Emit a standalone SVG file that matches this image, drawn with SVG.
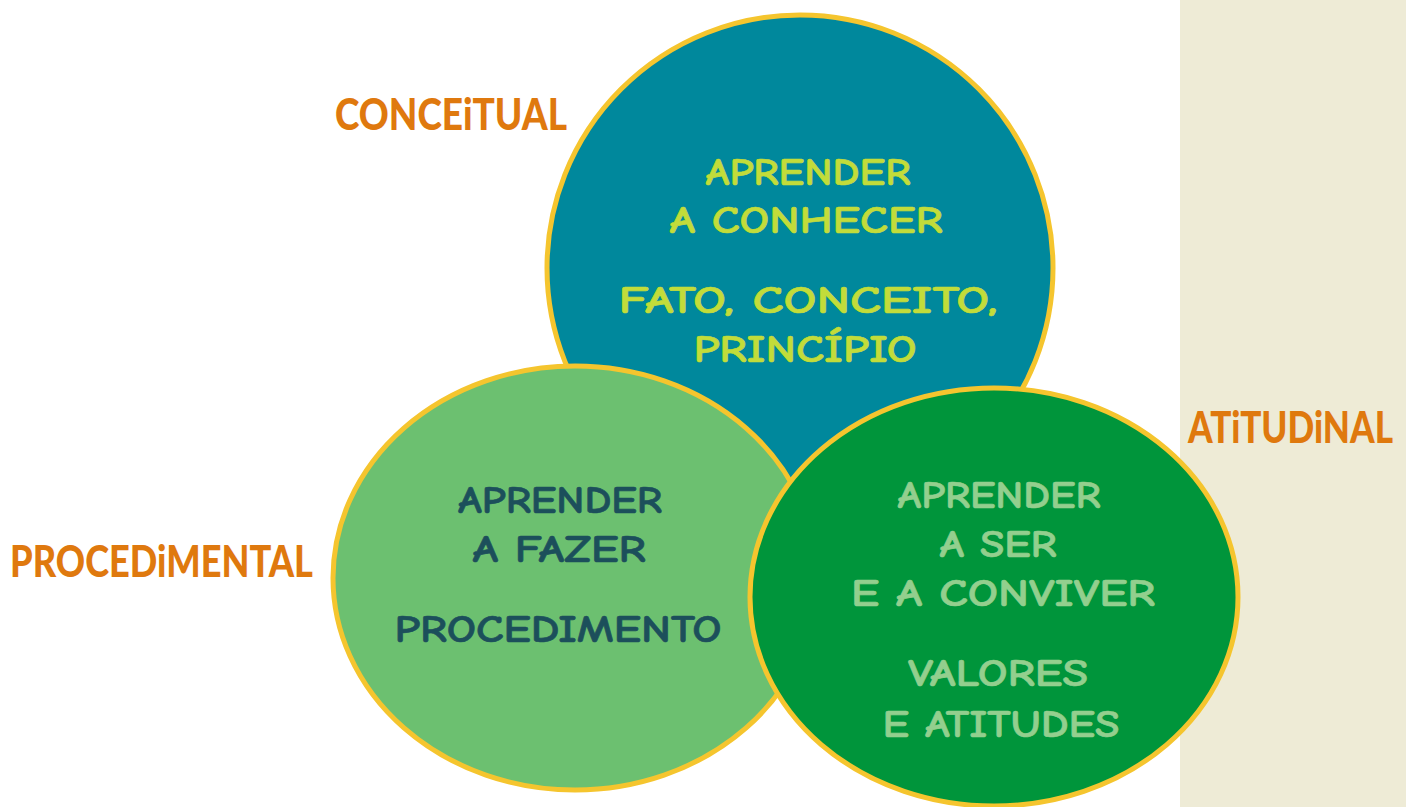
<svg xmlns="http://www.w3.org/2000/svg" width="1406" height="807" viewBox="0 0 1406 807">
<style>
.c{stroke:#F5C52E;stroke-width:5}
.t{font-family:"Comic Neue","Liberation Sans",Arial,sans-serif;font-weight:700;font-size:38px;text-anchor:middle;stroke-width:0.6;stroke-linejoin:round}
.lb{font-family:Lato,"Liberation Sans",Arial,sans-serif;font-weight:900;font-size:44px;fill:#DF790E}
.y{fill:#C2DC3A;stroke:#C2DC3A}
.d{fill:#1C4F5B;stroke:#1C4F5B}
.g{fill:#93CF8E;stroke:#93CF8E}
</style>
<rect x="0" y="0" width="1406" height="807" fill="#FFFFFF"/>
<rect x="1180" y="0" width="226" height="807" fill="#EEEBD6"/>
<g id="conceitual">
<ellipse class="c" cx="800" cy="268" rx="253" ry="253" fill="#00889C"/>
<text class="t y" x="808" y="185" textLength="205" lengthAdjust="spacingAndGlyphs">APRENDER</text>
<text class="t y" x="806" y="233" textLength="273" lengthAdjust="spacingAndGlyphs">A CONHECER</text>
<text class="t y" x="808" y="313" textLength="379" lengthAdjust="spacingAndGlyphs">FATO, CONCEITO,</text>
<text class="t y" x="805" y="362" textLength="223" lengthAdjust="spacingAndGlyphs">PRINCÍPIO</text>
</g>
<g id="procedimental">
<ellipse class="c" cx="575" cy="578" rx="242" ry="212" fill="#6CC070"/>
<text class="t d" x="560" y="513" textLength="204" lengthAdjust="spacingAndGlyphs">APRENDER</text>
<text class="t d" x="559" y="562" textLength="173" lengthAdjust="spacingAndGlyphs">A FAZER</text>
<text class="t d" x="558" y="642" textLength="327" lengthAdjust="spacingAndGlyphs">PROCEDIMENTO</text>
</g>
<g id="atitudinal">
<ellipse class="c" cx="994" cy="597" rx="244" ry="209" fill="#00953B"/>
<text class="t g" x="999" y="508" textLength="203" lengthAdjust="spacingAndGlyphs">APRENDER</text>
<text class="t g" x="998" y="557" textLength="117" lengthAdjust="spacingAndGlyphs">A SER</text>
<text class="t g" x="1003" y="606" textLength="304" lengthAdjust="spacingAndGlyphs">E A CONVIVER</text>
<text class="t g" x="998" y="686" textLength="180" lengthAdjust="spacingAndGlyphs">VALORES</text>
<text class="t g" x="1001" y="737" textLength="237" lengthAdjust="spacingAndGlyphs">E ATITUDES</text>
</g>
<g id="labels">
<text class="lb" x="335" y="130" textLength="232" lengthAdjust="spacingAndGlyphs">CONCEiTUAL</text>
<text class="lb" x="1393" y="443" text-anchor="end" font-size="41" textLength="205" lengthAdjust="spacingAndGlyphs">ATiTUDiNAL</text>
<text class="lb" x="10" y="577" textLength="303" lengthAdjust="spacingAndGlyphs">PROCEDiMENTAL</text>
</g>
<g id="connectors"/>
</svg>
